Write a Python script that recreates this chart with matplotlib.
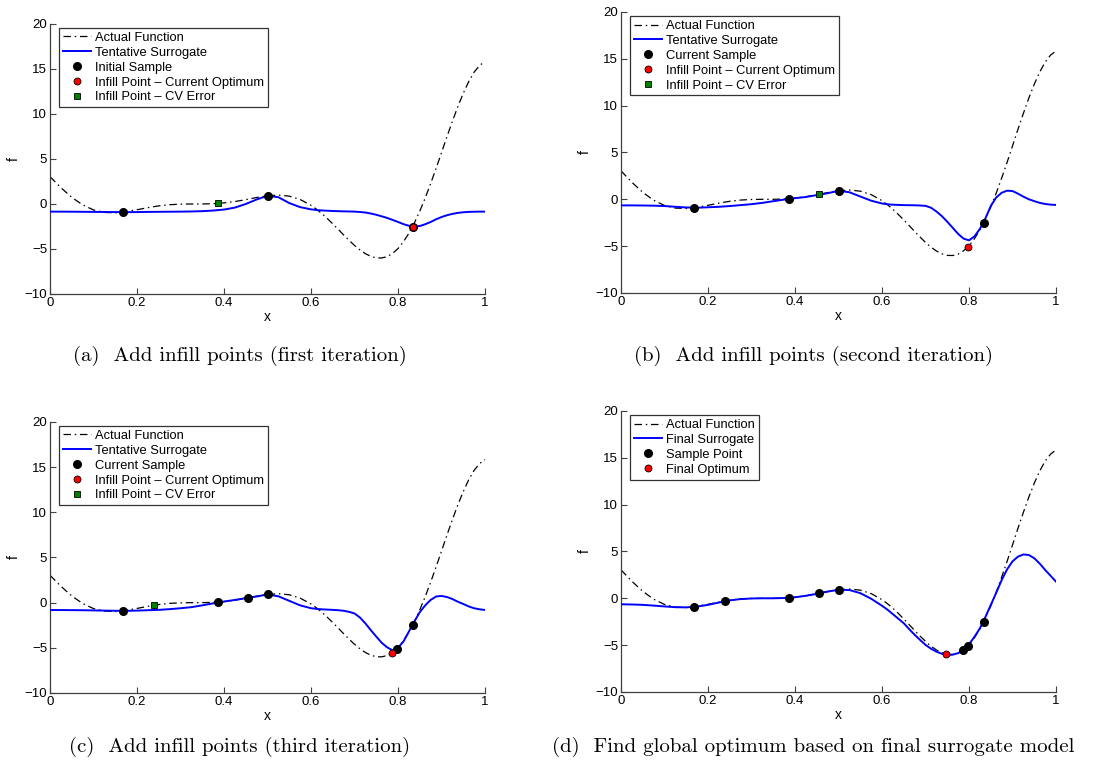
import numpy as np
import matplotlib
matplotlib.use("Agg")
import matplotlib.pyplot as plt
from matplotlib.lines import Line2D

plt.rcParams['font.family'] = ['Liberation Sans', 'DejaVu Sans']

# Sampling grid shared by every curve (finer where the curves bend sharply)
x_grid = [0.000, 0.025, 0.050, 0.075, 0.100, 0.125, 0.150, 0.175, 0.200, 0.225,
          0.250, 0.275, 0.300, 0.325, 0.350, 0.375, 0.400, 0.425, 0.450, 0.475,
          0.500, 0.525, 0.550, 0.575,
          0.6000, 0.6125, 0.6250, 0.6375, 0.6500, 0.6625, 0.6750, 0.6875,
          0.7000, 0.7125, 0.7250, 0.7375, 0.7500, 0.7625, 0.7750, 0.7875,
          0.8000, 0.8125, 0.8250, 0.8375, 0.8500, 0.8625, 0.8750, 0.8875,
          0.9000, 0.9125, 0.9250, 0.9375, 0.9500, 0.9625, 0.9750, 0.9875,
          1.0000]

# True objective
f_actual = [3.03, 1.81, 0.74, -0.10, -0.66, -0.94, -0.98, -0.85, -0.64, -0.41,
            -0.21, -0.08, -0.02, 0.00, 0.00, 0.03, 0.12, 0.27, 0.48, 0.72,
            0.91, 0.99, 0.87, 0.50,
            -0.15, -0.58, -1.07, -1.62, -2.21, -2.82, -3.44, -4.04,
            -4.61, -5.11, -5.52, -5.82, -5.99, -6.00, -5.85, -5.49,
            -4.95, -4.20, -3.25, -2.11, -0.80, 0.67, 2.27, 3.96,
            5.71, 7.49, 9.19, 10.82, 12.30, 13.60, 14.65, 15.40,
            15.83]

# Surrogate predictions, one per stage
surr_a = [-0.85, -0.85, -0.86, -0.87, -0.88, -0.89, -0.90, -0.91, -0.90, -0.88,
          -0.87, -0.86, -0.85, -0.83, -0.80, -0.73, -0.62, -0.40, 0.00, 0.50,
          0.91, 0.75, 0.10, -0.35,
          -0.60, -0.67, -0.72, -0.75, -0.78, -0.80, -0.82, -0.83,
          -0.85, -0.89, -0.95, -1.06, -1.20, -1.37, -1.55, -1.77,
          -2.00, -2.24, -2.42, -2.52, -2.45, -2.25, -2.00, -1.70,
          -1.45, -1.25, -1.10, -0.99, -0.92, -0.88, -0.86, -0.85,
          -0.85]
surr_b = [-0.65, -0.65, -0.66, -0.68, -0.72, -0.80, -0.87, -0.90, -0.85, -0.80,
          -0.72, -0.62, -0.52, -0.38, -0.20, -0.03, 0.12, 0.25, 0.45, 0.65,
          0.91, 0.75, 0.30, -0.15,
          -0.45, -0.53, -0.58, -0.60, -0.62, -0.63, -0.64, -0.66,
          -0.70, -0.90, -1.30, -1.80, -2.40, -3.05, -3.70, -4.20,
          -4.38, -3.95, -3.15, -2.05, -0.70, 0.20, 0.70, 0.92,
          0.88, 0.60, 0.28, 0.00, -0.20, -0.38, -0.50, -0.57,
          -0.60]
surr_c = [-0.82, -0.82, -0.83, -0.84, -0.86, -0.88, -0.90, -0.91, -0.88, -0.84,
          -0.80, -0.72, -0.62, -0.50, -0.30, -0.08, 0.12, 0.30, 0.50, 0.68,
          0.91, 0.70, 0.20, -0.30,
          -0.62, -0.69, -0.74, -0.77, -0.80, -0.84, -0.90, -1.02,
          -1.20, -1.65, -2.30, -3.05, -3.76, -4.45, -4.95, -5.28,
          -5.00, -4.30, -3.20, -2.10, -1.05, -0.30, 0.30, 0.68,
          0.74, 0.62, 0.40, 0.10, -0.15, -0.42, -0.62, -0.74,
          -0.81]
surr_d = [-0.64, -0.66, -0.70, -0.78, -0.87, -0.95, -0.97, -0.88, -0.70, -0.45,
          -0.22, -0.08, -0.02, 0.00, 0.00, 0.03, 0.11, 0.27, 0.48, 0.72,
          0.91, 0.88, 0.55, -0.05,
          -0.80, -1.22, -1.70, -2.18, -2.67, -3.30, -3.90, -4.45,
          -4.98, -5.38, -5.70, -5.92, -6.05, -6.02, -5.85, -5.50,
          -4.90, -4.10, -3.20, -2.00, -0.70, 0.60, 1.95, 3.10,
          3.95, 4.45, 4.68, 4.62, 4.27, 3.70, 3.02, 2.40,
          1.77]

# Sample locations and responses
samp_x = [0.1667, 0.2383, 0.3861, 0.4549, 0.5, 0.7859, 0.7969, 0.8333]
samp_f = [-0.91, -0.30, 0.07, 0.53, 0.91, -5.55, -5.09, -2.52]

panels = [
    dict(surr=surr_a, samples=[0, 4, 7], opt=(0.8333, -2.52), cv=(0.3861, 0.07),
         labels=['Actual Function', 'Tentative Surrogate', 'Initial Sample',
                 'Infill Point \u2013 Current Optimum', 'Infill Point \u2013 CV Error'],
         caption='(a)  Add infill points (first iteration)'),
    dict(surr=surr_b, samples=[0, 2, 4, 7], opt=(0.7969, -5.09), cv=(0.4549, 0.53),
         labels=['Actual Function', 'Tentative Surrogate', 'Current Sample',
                 'Infill Point \u2013 Current Optimum', 'Infill Point \u2013 CV Error'],
         caption='(b)  Add infill points (second iteration)'),
    dict(surr=surr_c, samples=[0, 2, 3, 4, 6, 7], opt=(0.7859, -5.55), cv=(0.2383, -0.30),
         labels=['Actual Function', 'Tentative Surrogate', 'Current Sample',
                 'Infill Point \u2013 Current Optimum', 'Infill Point \u2013 CV Error'],
         caption='(c)  Add infill points (third iteration)'),
    dict(surr=surr_d, samples=[0, 1, 2, 3, 4, 5, 6, 7], opt=(0.7475, -5.99), cv=None,
         labels=['Actual Function', 'Final Surrogate', 'Sample Point', 'Final Optimum'],
         caption='(d)  Find global optimum based on final surrogate model'),
]

# axes rectangles [left, bottom, width, height] in figure fractions
rects = [[0.0449, 0.6187, 0.3905, 0.3502],
         [0.5575, 0.6200, 0.3905, 0.3645],
         [0.0449, 0.1012, 0.3905, 0.3515],
         [0.5575, 0.1025, 0.3905, 0.3645]]
caption_pos = [(240, 356), (813, 356), (240, 747), (813, 747)]

W, H = 1114, 771
fig = plt.figure(figsize=(W / 100, H / 100), dpi=100)

dashdot = (0, (6, 3, 1.2, 3))
spine_col = '#404040'

for p, r, (cx, cy) in zip(panels, rects, caption_pos):
    ax = fig.add_axes(r)
    ax.plot(x_grid, f_actual, color='black', lw=0.9, linestyle=dashdot, zorder=2)
    ax.plot(x_grid, p['surr'], color='#0000ff', lw=1.4, zorder=3)
    sx = [samp_x[i] for i in p['samples']]
    sf = [samp_f[i] for i in p['samples']]
    ax.plot(sx, sf, 'o', color='black', ms=5.5, zorder=4)
    ax.plot(*p['opt'], 'o', mfc='red', mec='black', mew=0.6, ms=5, zorder=5)
    if p['cv'] is not None:
        ax.plot(*p['cv'], 's', mfc='#008000', mec='black', mew=0.6, ms=4.5, zorder=5)

    ax.set_xlim(0, 1)
    ax.set_ylim(-10, 20)
    ax.set_xticks([0, 0.2, 0.4, 0.6, 0.8, 1])
    ax.set_xticklabels(['0', '0.2', '0.4', '0.6', '0.8', '1'])
    ax.set_yticks([-10, -5, 0, 5, 10, 15, 20])
    ax.tick_params(direction='in', length=4, width=0.8, colors=spine_col,
                   labelcolor='black', labelsize=9.5, pad=2)
    for side in ('top', 'right'):
        ax.spines[side].set_visible(False)
    for side in ('left', 'bottom'):
        ax.spines[side].set_color(spine_col)
        ax.spines[side].set_linewidth(0.9)
    ax.set_xlabel('x', fontsize=10, labelpad=1)
    ax.set_ylabel('f', fontsize=10, labelpad=3)

    handles = [Line2D([], [], color='black', lw=0.9, linestyle=dashdot),
               Line2D([], [], color='#0000ff', lw=1.4),
               Line2D([], [], marker='o', color='black', ls='none', ms=5.5),
               Line2D([], [], marker='o', mfc='red', mec='black', mew=0.6, ls='none', ms=5)]
    if p['cv'] is not None:
        handles.append(Line2D([], [], marker='s', mfc='#008000', mec='black',
                              mew=0.6, ls='none', ms=4.5))
    leg = ax.legend(handles, p['labels'], loc='upper left', bbox_to_anchor=(0.02, 0.985),
                    fontsize=9.3, frameon=True, fancybox=False, edgecolor='black',
                    borderpad=0.3, labelspacing=0.22, handlelength=2.2,
                    handletextpad=0.3, borderaxespad=0.0)
    leg.get_frame().set_linewidth(0.9)

    fig.text(cx / W, 1 - cy / H, p['caption'], ha='center', va='center',
             fontsize=15, family='cmr10')

fig.savefig('out.png', dpi=100)
